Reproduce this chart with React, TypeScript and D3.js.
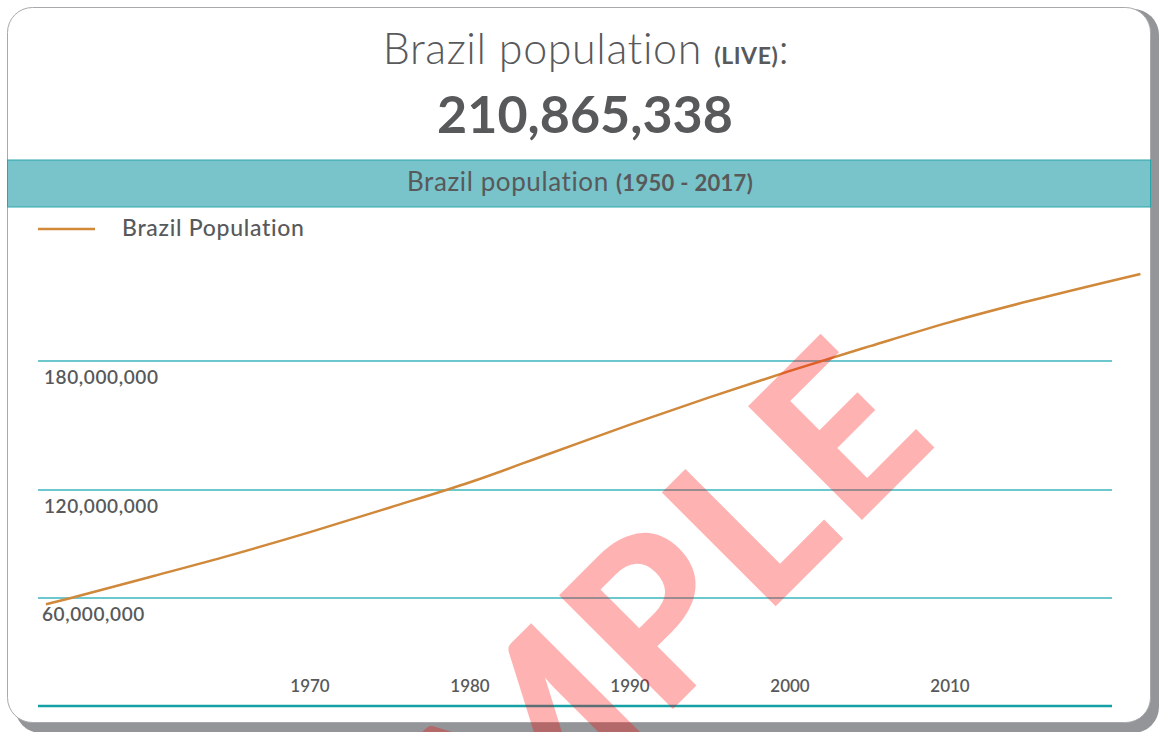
import React from 'react';
import * as d3 from 'd3';

// values
const years = [1953.5, 1955, 1960, 1965, 1970, 1975, 1980, 1985, 1990, 1995, 2000, 2005, 2010, 2015, 2021.9];
const population = [56.5e6, 59.9e6, 71.7e6, 83.7e6, 96.6e6, 110.3e6, 123.6e6, 137e6, 150.4e6, 163.2e6, 175.4e6, 186.9e6, 198.1e6, 208e6, 220.5e6];
const yTicks = [60e6, 120e6, 180e6];
const xTicks = [1970, 1980, 1990, 2000, 2010];

const W = 1159;
const H = 732;
const FONT = 'Lato, "Open Sans", sans-serif';
const GREY = '#58595b';

const App = () => {
  // grid spacing in the picture is not even, so the y scale is piecewise
  const y = d3.scaleLinear().domain(yTicks).range([598, 490, 361]);
  const x = d3.scaleLinear().domain([1970, 2010]).range([310, 950]);

  const line = d3.line<number>()
    .x((_, i) => x(years[i]))
    .y(d => y(d))
    .curve(d3.curveMonotoneX);

  const fmt = d3.format(',');

  return (
    <div style={{ position: 'absolute', left: 0, top: 0 }}>
      <svg width={W} height={H} style={{ display: 'block', fontFamily: FONT }}>
        {/* card + shadow */}
        <rect x={15} y={9} width={1144} height={724} rx={26} fill="#939598" />
        <rect x={7.5} y={7.5} width={1143} height={715} rx={25} fill="#fff" stroke="#a7a9ac" />

        {/* headline */}
        <text x={586} y={64} textAnchor="middle" fill={GREY} fontSize={43} fontWeight={300} letterSpacing={0.6}>
          Brazil population <tspan fontSize={23} fontWeight={700}>(LIVE)</tspan>:
        </text>
        <text x={585} y={133} textAnchor="middle" fill={GREY} fontSize={52} fontWeight={700}>
          210,865,338
        </text>

        {/* band */}
        <rect x={7.5} y={160} width={1143} height={47} fill="#79c3ca" stroke="#2aa6ab" />
        <text x={580} y={191} textAnchor="middle" fill={GREY} fontSize={26} fontWeight={400} letterSpacing={0.6}>
          Brazil population <tspan fontSize={22} fontWeight={700} letterSpacing={0.3}>(1950 - 2017)</tspan>
        </text>

        {/* legend */}
        <line x1={38} x2={95} y1={229} y2={229} stroke="#d3893a" strokeWidth={2.5} />
        <text x={122} y={236} fill={GREY} fontSize={23} fontWeight={500} letterSpacing={0.7}>Brazil Population</text>

        {/* grid */}
        {yTicks.map(t => (
          <g key={t}>
            <line x1={38} x2={1112} y1={y(t)} y2={y(t)} stroke="#3cb6be" strokeWidth={1.5} />
            <text x={t === 60e6 ? 42 : 44} y={y(t) + 23} fill={GREY} fontSize={19} fontWeight={600} letterSpacing={0.6}>
              {fmt(t)}
            </text>
          </g>
        ))}

        {/* x axis */}
        <line x1={38} x2={1112} y1={706} y2={706} stroke="#14a0a5" strokeWidth={2.5} />
        {xTicks.map(t => (
          <text key={t} x={x(t)} y={692} textAnchor="middle" fill={GREY} fontSize={17} fontWeight={600}>
            {t}
          </text>
        ))}

        <path d={line(population) || ''} fill="none" stroke="#d0883a" strokeWidth={2.5} />

        {/* watermark */}
        <text
          x={946}
          y={442}
          textAnchor="end"
          transform="rotate(-45 940 442)"
          fill="#ff0000"
          fillOpacity={0.3}
          fontSize={222}
          fontWeight={900}
          letterSpacing={6}
        >
          SAMPLE
        </text>
      </svg>
    </div>
  );
};

export default App;
